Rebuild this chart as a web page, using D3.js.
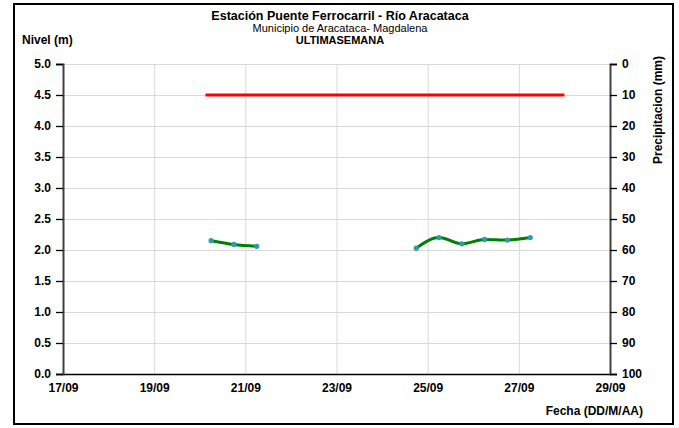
<!DOCTYPE html>
<html>
<head>
<meta charset="utf-8">
<script src="https://cdn.jsdelivr.net/npm/d3@7"></script>
<style>
 body { margin: 0; background: #fff; }
 text { font-family: "Liberation Sans", Arial, sans-serif; fill: #000; }
 .axis text { font-weight: bold; font-size: 12px; }
 .gridline line { stroke: #d9d9d9; }
 .gridline path { stroke: none; }
</style>
</head>
<body>
<script>
 ///////////////////////////////////////////////////////
 // data

 var nivelTimes = ["2023-09-20T06:00", "2023-09-20T18:00", "2023-09-21T06:00",
   null,
   "2023-09-24T18:00", "2023-09-25T06:00", "2023-09-25T18:00",
   "2023-09-26T06:00", "2023-09-26T18:00", "2023-09-27T06:00"];
 var nivelValues = [2.15, 2.09, 2.06, null, 2.03, 2.20, 2.10, 2.17, 2.16, 2.20];

 var alertTimes = ["2023-09-20T03:00", "2023-09-28T00:00"];
 var alertValues = [4.5, 4.5];

 var xTickLabels = ["17/09", "19/09", "21/09", "23/09", "25/09", "27/09", "29/09"];
 var yTicks = [0, 0.5, 1, 1.5, 2, 2.5, 3, 3.5, 4, 4.5, 5];
 var precTicks = [0, 10, 20, 30, 40, 50, 60, 70, 80, 90, 100];

 ///////////////////////////////////////////////////////
 // margins

 var w = 679;
 var h = 428;
 var svg = d3.select("body").append("svg")
   .attr("width", w)
   .attr("height", h),
   margin = { top: 64, bottom: 54, left: 63, right: 69 },
   width = w - margin.left - margin.right,
   height = h - margin.top - margin.bottom;

 var parse = d3.timeParse("%Y-%m-%dT%H:%M");
 var parseTick = d3.timeParse("%d/%m/%Y");

 ///////////////////////////////////////////////////////
 // scales

 var tickDates = xTickLabels.map(function(s) { return parseTick(s + "/2023"); });
 var x = d3.scaleTime()
   .domain([tickDates[0], tickDates[tickDates.length - 1]])
   .range([0, width]);
 var y = d3.scaleLinear().domain([0, 5]).range([height, 0]);
 var yPrec = d3.scaleLinear().domain([0, 100]).range([0, height]); // inverted

 var xAxis = d3.axisBottom(x)
   .tickValues(tickDates)
   .tickFormat(d3.timeFormat("%d/%m"))
   .tickSize(0)
   .tickPadding(9);
 var yAxis = d3.axisLeft(y)
   .tickValues(yTicks)
   .tickFormat(d3.format(".1f"))
   .tickSize(7)
   .tickPadding(5);
 var precAxis = d3.axisRight(yPrec)
   .tickValues(precTicks)
   .tickSize(7)
   .tickPadding(5);

 ///////////////////////////////////////////////////////
 // DOM

 // frame
 svg.append("rect")
   .attr("x", 14).attr("y", 4)
   .attr("width", 659).attr("height", 420)
   .attr("fill", "none")
   .attr("stroke", "#000")
   .attr("stroke-width", 2);

 var chart = svg.append("g")
   .attr("transform", "translate(" + margin.left + "," + margin.top + ")");

 // gridlines
 chart.append("g")
   .classed("gridline", true)
   .call(d3.axisLeft(y).tickValues(yTicks).tickFormat("").tickSize(-width));
 chart.append("g")
   .classed("gridline", true)
   .attr("transform", "translate(0," + height + ")")
   .call(d3.axisBottom(x).tickValues(tickDates).tickFormat("").tickSize(-height));

 // axes
 chart.append("g")
   .classed("axis", true)
   .attr("transform", "translate(0," + height + ")")
   .call(xAxis);
 chart.append("g")
   .classed("axis", true)
   .call(yAxis);
 chart.append("g")
   .classed("axis", true)
   .attr("transform", "translate(" + width + ",0)")
   .call(precAxis);
 chart.selectAll(".axis path, .axis line").attr("stroke", "#000").attr("stroke-width", 1.3);
 chart.selectAll(".axis .domain").attr("stroke", "#404040").attr("stroke-width", 2);
 chart.select(".axis .domain").attr("stroke", "#000").attr("stroke-width", 1.5);

 ///////////////////////////////////////////////////////
 // plot

 var alertData = alertTimes.map(function(t, i) { return { t: parse(t), v: alertValues[i] }; });
 chart.append("path")
   .datum(alertData)
   .attr("fill", "none")
   .attr("stroke", "#ff0000")
   .attr("stroke-width", 3)
   .attr("d", d3.line().x(function(d) { return x(d.t); }).y(function(d) { return y(d.v); }));

 var nivelData = nivelTimes.map(function(t, i) {
   return { t: t ? parse(t) : null, v: nivelValues[i] };
 });
 var line = d3.line()
   .defined(function(d) { return d.v !== null; })
   .curve(d3.curveMonotoneX)
   .x(function(d) { return x(d.t); })
   .y(function(d) { return y(d.v); });
 chart.append("path")
   .datum(nivelData)
   .attr("fill", "none")
   .attr("stroke", "#008000")
   .attr("stroke-width", 3)
   .attr("d", line);
 chart.selectAll(".pt")
   .data(nivelData.filter(function(d) { return d.v !== null; }))
   .enter().append("circle")
   .classed("pt", true)
   .attr("cx", function(d) { return x(d.t); })
   .attr("cy", function(d) { return y(d.v); })
   .attr("r", 2.6)
   .attr("fill", "#2f9aa8");

 ///////////////////////////////////////////////////////
 // titles

 svg.append("text").attr("x", 340).attr("y", 20).attr("text-anchor", "middle")
   .style("font-weight", "bold").style("font-size", "12.5px")
   .text("Estación Puente Ferrocarril - Río Aracataca");
 svg.append("text").attr("x", 340).attr("y", 32).attr("text-anchor", "middle")
   .style("font-size", "11px")
   .text("Municipio de Aracataca- Magdalena");
 svg.append("text").attr("x", 340).attr("y", 44).attr("text-anchor", "middle")
   .style("font-weight", "bold").style("font-size", "11px")
   .text("ULTIMASEMANA");
 svg.append("text").attr("x", 22).attr("y", 44)
   .style("font-weight", "bold").style("font-size", "12px")
   .text("Nivel (m)");
 svg.append("text").attr("transform", "translate(662,110) rotate(-90)")
   .attr("text-anchor", "middle")
   .style("font-weight", "bold").style("font-size", "12px")
   .text("Precipitacion (mm)");
 svg.append("text").attr("x", 643).attr("y", 415).attr("text-anchor", "end")
   .style("font-weight", "bold").style("font-size", "12px")
   .text("Fecha (DD/M/AA)");
</script>
</body>
</html>
